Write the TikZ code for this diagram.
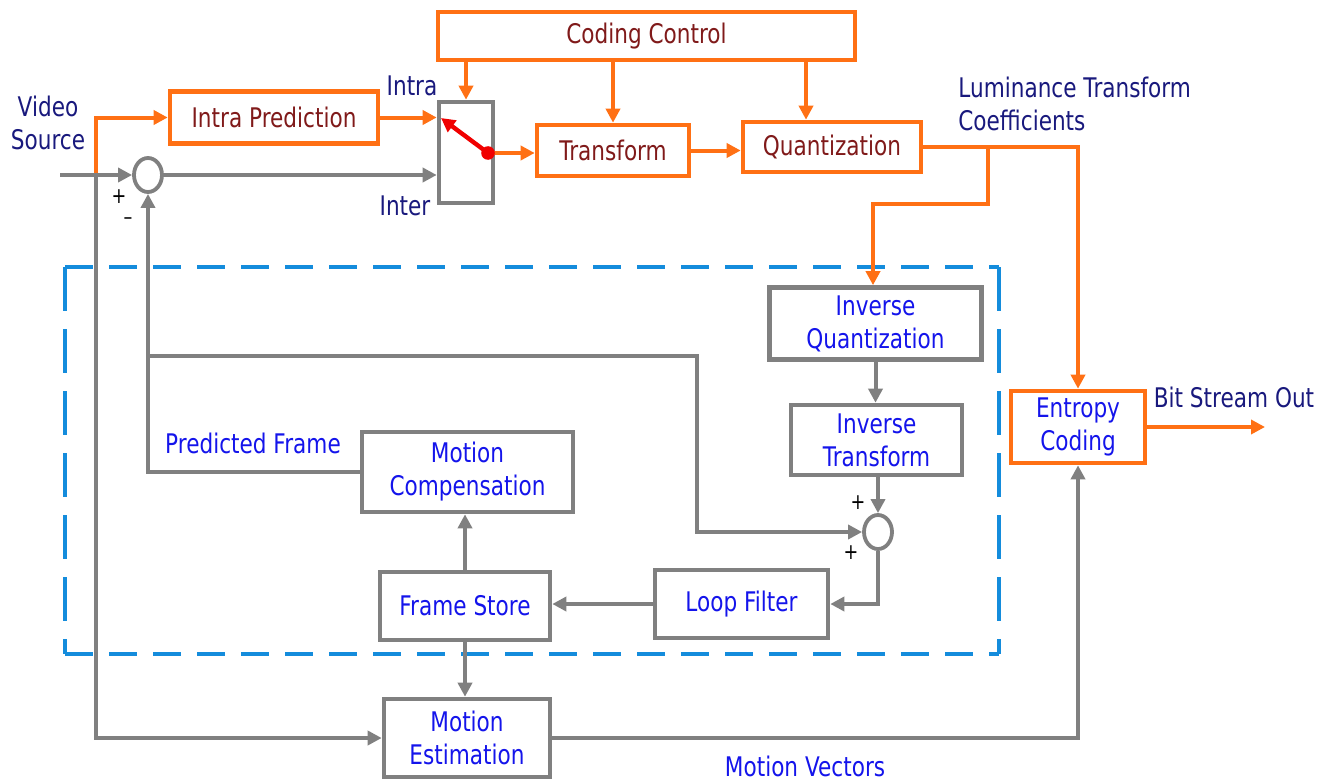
\documentclass[tikz,border=0pt]{standalone}
\usepackage{fontspec}
\setmainfont{DejaVu Sans}[FakeStretch=0.8]
\usetikzlibrary{arrows.meta,calc,shapes.geometric}
\definecolor{org}{RGB}{255,112,20}
\definecolor{gr}{RGB}{128,128,128}
\definecolor{dred}{RGB}{128,26,26}
\definecolor{bl}{RGB}{20,20,235}
\definecolor{navy}{RGB}{25,25,125}
\definecolor{dblue}{RGB}{20,140,220}
\definecolor{swred}{RGB}{240,0,0}
\begin{document}
\begin{tikzpicture}[x=0.5pt,y=-0.5pt,
  txt/.style={font=\fontsize{13.5}{16.5}\selectfont, align=center, inner sep=0pt},
  obox/.style={txt, draw=org, line width=2.3pt, text=dred, fill=white},
  ebox/.style={txt, draw=org, line width=2.3pt, text=bl, fill=white},
  gbox/.style={txt, draw=gr, line width=2.3pt, text=bl, fill=white},
  oline/.style={draw=org, line width=2pt},
  gline/.style={draw=gr, line width=2pt},
  tip/.style={-{Triangle[length=7pt,width=7pt]}},
  sumc/.style={ellipse, draw=gr, line width=1.9pt, minimum width=14pt, minimum height=17pt, inner sep=0pt, fill=white},
  lab/.style={txt, text=navy},
  blab/.style={txt, text=bl},
  pm/.style={font=\fontsize{11}{11}\selectfont, inner sep=0pt, text=black},
  dashh/.style={draw=dblue, line width=2.4pt, dash pattern=on 14pt off 8pt},
  dashv/.style={draw=dblue, line width=2.4pt, dash pattern=on 22pt off 9pt}]
\path[use as bounding box] (0,0) rectangle (1331,781);

% dashed loop region
\draw[dashh] (65,267) -- (999,267);
\draw[dashh] (65,654) -- (999,654);
\draw[dashv] (65,267) -- (65,654);
\draw[dashv] (999,267) -- (999,654);

% boxes
\node[obox, minimum width=208.5pt, minimum height=24pt] (cc) at (646.5,36) {Coding Control};
\node[obox, minimum width=104pt, minimum height=26pt] (ip) at (274,117.5) {Intra Prediction};
\node[draw=gr, line width=2.3pt, minimum width=27pt, minimum height=50.5pt, inner sep=0pt] (sw) at (466,152.5) {};
\node[obox, minimum width=76pt, minimum height=25.5pt] (tr) at (613,150.5) {Transform};
\node[obox, minimum width=89pt, minimum height=25pt] (qu) at (832,147) {Quantization};
\node[gbox, minimum width=106pt, minimum height=36pt] (iq) at (875.5,323.5) {Inverse\\Quantization};
\node[gbox, minimum width=85.5pt, minimum height=35pt] (it) at (876.5,440) {Inverse\\Transform};
\node[gbox, minimum width=105.5pt, minimum height=40pt] (mc) at (467.5,472) {Motion\\Compensation};
\node[gbox, minimum width=85pt, minimum height=34pt] (fs) at (465,606) {Frame Store};
\node[gbox, minimum width=86.5pt, minimum height=34pt] (lf) at (741.5,604) {Loop Filter};
\node[ebox, minimum width=67pt, minimum height=36pt] (ec) at (1078,427) {Entropy\\Coding};
\node[gbox, minimum width=83pt, minimum height=39pt] (me) at (467,738) {Motion\\Estimation};
\node[sumc] (s1) at (148,175) {};
\node[sumc] (s2) at (878,532) {};

% labels
\node[lab] (vs) at (48,123) {Video\\Source};
\node[lab] (intra) at (412,86) {Intra};
\node[lab] (inter) at (405,206) {Inter};
\node[lab, anchor=west, align=left] (ltc) at (958,104) {Luminance Transform\\Coefficients};
\node[lab] (bso) at (1234,397) {Bit Stream Out};
\node[blab] (pf) at (253,443) {Predicted Frame};
\node[blab] (mv) at (805,766) {Motion Vectors};
\node[pm] (p1) at (119,197) {+};
\node[pm] (m1) at (128,221) {\textendash};
\node[pm] (p2) at (858,503) {+};
\node[pm] (p3) at (851,553) {+};

% coordinates
\coordinate (in) at (60,175);
\coordinate (j1) at (96,175);
\coordinate (j1o) at (96,173);
\coordinate (dot) at (488,153);
\coordinate (swin) at (441,118);
\coordinate (qa) at (806,0);
\coordinate (qj) at (988,147);
\coordinate (qk) at (873,204);
\coordinate (fb2) at (148,356);
\coordinate (fb3) at (697,356);
\coordinate (out) at (1265,427);

% gray connectors
\draw[gline,tip] (in) -- (s1.west);
\draw[gline,tip] (j1) |- (me.west);
\draw[gline,tip] (s1.east) -- (s1.east -| sw.west);
\draw[gline,tip] (iq.south) -- (iq.south |- it.north);
\draw[gline,tip] (it.south -| s2) -- (s2.north);
\draw[gline,tip] (s2.south) |- (lf.east);
\draw[gline,tip] (lf.west) -- (lf.west -| fs.east);
\draw[gline,tip] (fs.north) -- (fs.north |- mc.south);
\draw[gline,tip] (fs.south) -- (fs.south |- me.north);
\draw[gline,tip] (me.east) -| (ec.south);
\draw[gline,tip] (mc.west) -| (s1.south);
\draw[gline,tip] (fb2) -- (fb3) |- (s2.west);

% orange connectors
\draw[oline,tip] (j1o) |- (ip.west);
\draw[oline,tip] (ip.east) -- (ip.east -| sw.west);
\draw[oline,tip] (dot) -- (dot -| tr.west);
\draw[oline,tip] (tr.east) -- (tr.east -| qu.west);
\draw[oline,tip] (cc.south -| sw.north) -- (sw.north);
\draw[oline,tip] (cc.south -| tr.north) -- (tr.north);
\draw[oline,tip] (cc.south -| qa) -- (qu.north -| qa);
\draw[oline,tip] (qu.east) -| (ec.north);
\draw[oline,tip] (qj) |- (qk) -- (qk |- iq.north);
\draw[oline,tip] (ec.east) -- (out);

% switch
\draw[swred, line width=2.2pt, -{Triangle[length=7pt,width=7pt]}] (dot) -- (swin);
\fill[swred] (dot) circle (3.4pt);
\end{tikzpicture}
\end{document}
